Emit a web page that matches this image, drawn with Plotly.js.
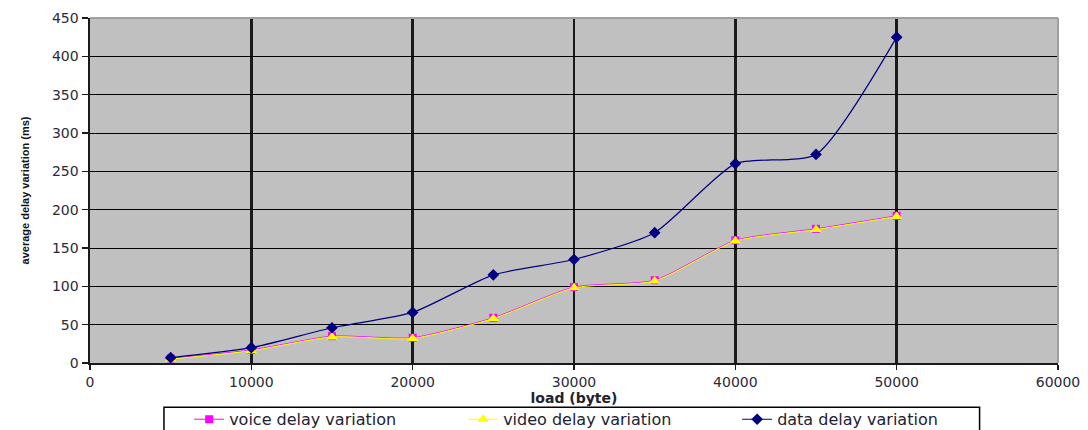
<!DOCTYPE html>
<html>
<head>
<meta charset="utf-8">
<script src="https://cdn.plot.ly/plotly-3.0.1.min.js"></script>
<style>
  html, body { margin: 0; padding: 0; background: #ffffff; }
  #chart { width: 1088px; height: 430px; }
</style>
</head>
<body>
<div id="chart"></div>
<script>
// Load in bytes and measured average delay variation (ms) per traffic class
const loadBytes = [5000, 10000, 15000, 20000, 25000, 30000, 35000, 40000, 45000, 50000];
const voiceDelay = [6, 17, 35, 33, 59, 99, 108, 160, 175, 192];
const videoDelay = [5, 16, 34, 32, 58, 98, 107, 159, 174, 191];
const dataDelay  = [7, 20, 46, 66, 115, 135, 170, 260, 272, 425];

const seriesNames = ['voice delay variation', 'video delay variation', 'data delay variation'];
const xTicks = [0, 10000, 20000, 30000, 40000, 50000, 60000];
const yTicks = [0, 50, 100, 150, 200, 250, 300, 350, 400, 450];

const tickFont = { family: 'DejaVu Sans, Verdana, sans-serif', size: 14, color: '#2a2a3a' };

const traces = [
  {
    x: loadBytes, y: voiceDelay, name: seriesNames[0], type: 'scatter', mode: 'lines+markers',
    line: { color: '#ff00ff', width: 1, shape: 'spline', smoothing: 0.6 },
    marker: { symbol: 'square', size: 8, color: '#ff00ff' }
  },
  {
    x: loadBytes, y: videoDelay, name: seriesNames[1], type: 'scatter', mode: 'lines+markers',
    line: { color: '#ffff00', width: 1, shape: 'spline', smoothing: 0.6 },
    marker: { symbol: 'triangle-up', size: 10, color: '#ffff00' }
  },
  {
    x: loadBytes, y: dataDelay, name: seriesNames[2], type: 'scatter', mode: 'lines+markers',
    line: { color: '#000080', width: 1.2, shape: 'spline', smoothing: 0.6 },
    marker: { symbol: 'diamond', size: 9, color: '#000080' }
  }
];

const layout = {
  width: 1088, height: 430,
  margin: { l: 90, r: 30, t: 18, b: 67, autoexpand: false },
  paper_bgcolor: '#ffffff',
  plot_bgcolor: '#c0c0c0',
  showlegend: true,
  legend: {
    orientation: 'h', x: 0.527, xanchor: 'center', y: -0.114, yanchor: 'top',
    borderwidth: 0, bgcolor: 'rgba(0,0,0,0)',
    font: { family: 'DejaVu Sans, Verdana, sans-serif', size: 16, color: '#222233' },
    entrywidth: 229,
    traceorder: 'normal'
  },
  xaxis: {
    range: [0, 60000], tickvals: xTicks, ticktext: xTicks.map(String),
    showgrid: true, gridcolor: '#1a1a1a', gridwidth: 2.5,
    zeroline: false, showline: true, linecolor: '#1a1a1a', linewidth: 2,
    ticks: 'outside', ticklen: 5, tickcolor: '#1a1a1a', tickwidth: 1.5,
    tickfont: tickFont,
    title: { text: '<b>load (byte)</b>', font: { family: 'DejaVu Sans, Verdana, sans-serif', size: 14, color: '#222233' }, standoff: 3 }
  },
  yaxis: {
    range: [0, 450], tickvals: yTicks, ticktext: yTicks.map(String),
    showgrid: true, gridcolor: '#000000', gridwidth: 1,
    zeroline: false, showline: true, linecolor: '#1a1a1a', linewidth: 2.5,
    ticks: 'outside', ticklen: 6, tickcolor: '#1a1a1a', tickwidth: 1.5,
    tickfont: tickFont,
    title: { text: '<b>average delay variation (ms)</b>', font: { family: 'Liberation Sans Narrow, Arial Narrow, sans-serif', size: 11, color: '#111111' }, standoff: 20 }
  },
  shapes: [
    // light frame along the top and right edges of the plot area
    { type: 'line', xref: 'paper', yref: 'paper', x0: 0, x1: 1, y0: 1, y1: 1, line: { color: '#a0a0a0', width: 2 }, layer: 'above' },
    { type: 'line', xref: 'paper', yref: 'paper', x0: 1, x1: 1, y0: 0, y1: 1, line: { color: '#a0a0a0', width: 2 }, layer: 'above' },
    // legend frame, running off the bottom edge of the page
    { type: 'rect', xref: 'paper', yref: 'paper', x0: 0.0764, x1: 0.919, y0: -0.35, y1: -0.128,
      line: { color: '#000000', width: 1.5 }, fillcolor: 'rgba(0,0,0,0)', layer: 'above' }
  ]
};

Plotly.newPlot('chart', traces, layout, { displayModeBar: false, staticPlot: true });
</script>
</body>
</html>
